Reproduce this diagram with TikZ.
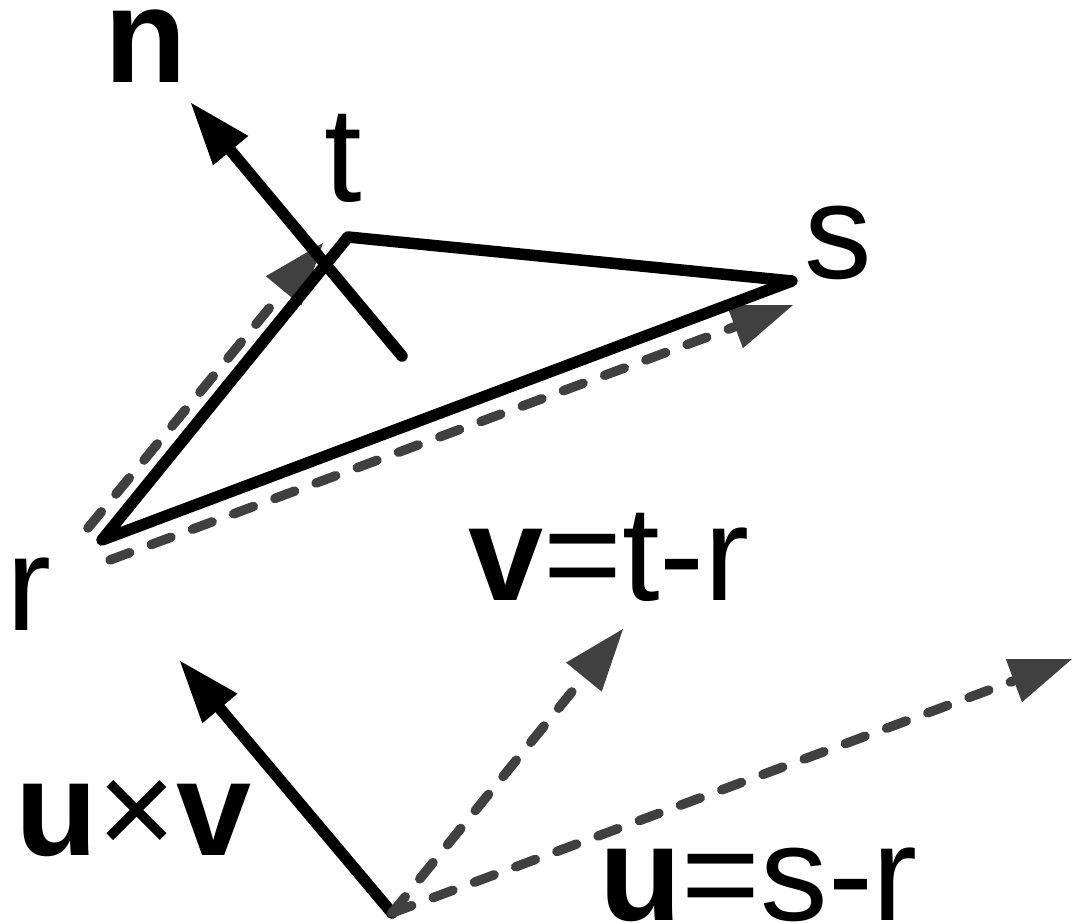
\documentclass[tikz,border=0pt]{standalone}
\usepackage{fontspec}
\setmainfont{Liberation Sans}
\usetikzlibrary{arrows.meta}
\definecolor{dgray}{RGB}{64,64,64}
\begin{document}
\begin{tikzpicture}[x=1pt,y=-1pt,
  solidline/.style={line width=11.5pt, line cap=round, line join=round, draw=black},
  dashline/.style={line width=9.5pt, line cap=round, draw=dgray, dash pattern=on 21pt off 23pt},
  tipped/.style={-{Triangle[length=62pt,width=46pt,line width=0pt]}},
  lbl/.style={anchor=base west, inner sep=0pt, font=\fontsize{135}{150}\selectfont}
]
\useasboundingbox (0,0) rectangle (1072,923);
% triangle vertices
\coordinate (r) at (102,540);
\coordinate (t) at (348,237);
\coordinate (s) at (792,281);
% normal
\coordinate (nb) at (402,356);
\coordinate (nt) at (191,103);
% dashed edge vectors
\coordinate (vr0) at (88,528);
\coordinate (vt) at (323,243);
\coordinate (ur0) at (110,560);
\coordinate (us) at (793,305);
% bottom vectors
\coordinate (o) at (392,913);
\coordinate (cx) at (180,661);
\coordinate (vv) at (623,629);
\coordinate (uu) at (1072,659);

\draw[dashline, tipped] (vr0) -- (vt);
\draw[dashline, tipped] (ur0) -- (us);
\draw[solidline] (r) -- (t) -- (s) -- cycle;
\draw[solidline, tipped] (nb) -- (nt);

\draw[solidline, tipped] (o) -- (cx);
\draw[dashline, tipped] (o) -- (vv);
\draw[dashline, tipped] (o) -- (uu);

\node[lbl] (nlab) at (104,83) {\bfseries n};
\node[lbl] (tlab) at (324,202) {t};
\node[lbl] (slab) at (804,278) {s};
\node[lbl] (rlab) at (6,630) {r};
\node[lbl] (vlab) at (468,600) {{\bfseries v}=t-r};
\node[lbl] (cxlab) at (15,855) {{\bfseries u}×{\bfseries v}};
\node[lbl] (ulab) at (599,920) {{\bfseries u}=s-r};
\end{tikzpicture}
\end{document}
